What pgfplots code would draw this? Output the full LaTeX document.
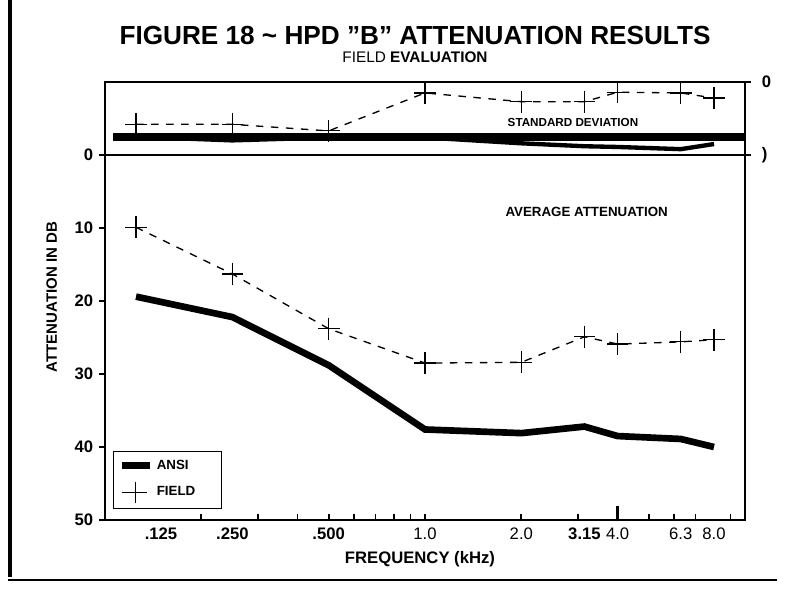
\documentclass[border=0pt]{standalone}
\usepackage{fontspec}
\setmainfont{Liberation Sans}
\setsansfont{Liberation Sans}
\usepackage{pgfplots}
\pgfplotsset{compat=1.18}

\begin{document}
\begin{tikzpicture}
\useasboundingbox (0pt,0pt) rectangle (484.8pt,353.4pt);

% page frame of the scan
\draw[line width=2.6pt] (6pt,353.4pt) -- (6pt,7.2pt);
\draw[line width=1.1pt] (4.8pt,5.4pt) -- (466.2pt,5.4pt);

\node[font=\fontsize{15.7}{18}\selectfont\bfseries] at (249pt,332.4pt)
  {FIGURE 18 \textasciitilde{} HPD "B" ATTENUATION RESULTS};
\node[font=\fontsize{9.2}{11}\selectfont] at (249pt,319.2pt) {FIELD \textbf{EVALUATION}};

% standard deviation panel
\begin{axis}[scale only axis, width=384pt, height=43.8pt,
  at={(63pt,260.4pt)}, anchor=south west,
  xmode=log, xmin=0.1, xmax=10, ymin=0, ymax=10,
  axis line style={line width=1.2pt},
  /pgf/number format/assume math mode=true,
  major tick length=3.6pt, tick style={black, line width=1pt},
  xtick=\empty,
  ytick={0,10}, yticklabels={\textbf{\char41},\textbf{0}},
  ytick pos=right, yticklabel pos=right, tick align=outside,
  yticklabel style={font=\fontsize{10}{12}\selectfont, xshift=3pt},
]
  \addplot[black, line width=4.8pt, forget plot] coordinates {(0.106,2.5) (10,2.5)};
  \addplot[black, line width=2.6pt] coordinates {
    (0.125,2.5) (0.25,2.0) (0.5,2.4) (1,2.4) (2,1.6) (3.15,1.2) (4,1.1) (6.3,0.8) (8,1.5)};
  \addplot[black, line width=0.8pt, dash pattern=on 4.5pt off 4.5pt,
    mark=+, mark size=6.5pt, mark options={solid, line width=0.7pt}] coordinates {
    (0.125,4.2) (0.25,4.2) (0.5,3.3) (1,8.5) (2,7.3) (3.15,7.3) (4,8.6) (6.3,8.5) (8,7.8)};
  \node[font=\fontsize{7}{8}\selectfont\bfseries] at (axis cs:2.9,4.4) {STANDARD DEVIATION};
\end{axis}

% average attenuation panel
\begin{axis}[scale only axis, width=384pt, height=219pt,
  at={(63pt,41.4pt)}, anchor=south west,
  xmode=log, xmin=0.1, xmax=10, ymin=0, ymax=50, y dir=reverse,
  axis line style={line width=1.2pt},
  /pgf/number format/assume math mode=true,
  major tick length=3.6pt, minor tick length=3.6pt,
  tick style={black, line width=1pt},
  ytick={0,10,...,50}, ytick pos=left, ytick align=outside,
  yticklabel style={font=\fontsize{10}{12}\selectfont\bfseries},
  xtick={0.125,0.25,0.5,1,2,3.15,4,6.3,8},
  xticklabels={\hspace{30pt}\textbf{.125},\textbf{.250},\textbf{.500},1.0,2.0,\textbf{3.15}\hspace{6pt},4.0,6.3,8.0},
  xtick pos=bottom, xtick align=inside,
  major x tick style={draw=none},
  minor xtick={0.2,0.3,0.4,0.5,0.6,0.7,0.8,0.9,1,2,3,5,6,7,9},
  extra x ticks={4}, extra x tick labels={},
  extra x tick style={major x tick style={draw=black, line width=1.8pt}, major tick length=8.4pt},
  xticklabel style={font=\fontsize{10}{12}\selectfont, yshift=-1pt},
  legend style={at={(0.012,0.03)}, anchor=south west, draw=black, line width=0.8pt,
    fill=white, font=\fontsize{8}{9}\selectfont\bfseries,
    inner xsep=3pt, inner ysep=3pt, row sep=4pt, cells={anchor=west}},
]
  \addplot[black, line width=4pt] coordinates {
    (0.125,19.4) (0.25,22.2) (0.5,28.8) (1,37.6) (2,38.1) (3.15,37.2) (4,38.5) (6.3,38.9) (8,40.0)};
  \addlegendentry{\makebox[34pt][l]{ANSI}}
  \addplot[black, line width=0.8pt, dash pattern=on 4.5pt off 4.5pt,
    mark=+, mark size=6.5pt, mark options={solid, line width=0.7pt}] coordinates {
    (0.125,9.9) (0.25,16.3) (0.5,23.8) (1,28.5) (2,28.4) (3.15,24.9) (4,25.9) (6.3,25.6) (8,25.3)};
  \addlegendentry{\makebox[34pt][l]{FIELD}}
  \node[font=\fontsize{8}{9}\selectfont\bfseries] at (axis cs:3.2,7.8) {AVERAGE ATTENUATION};
\end{axis}

\node[font=\fontsize{9}{11}\selectfont\bfseries, rotate=90] at (31pt,175.2pt) {ATTENUATION IN DB};
\node[font=\fontsize{10}{12}\selectfont\bfseries] at (252pt,18pt) {FREQUENCY (kHz)};
\end{tikzpicture}
\end{document}
